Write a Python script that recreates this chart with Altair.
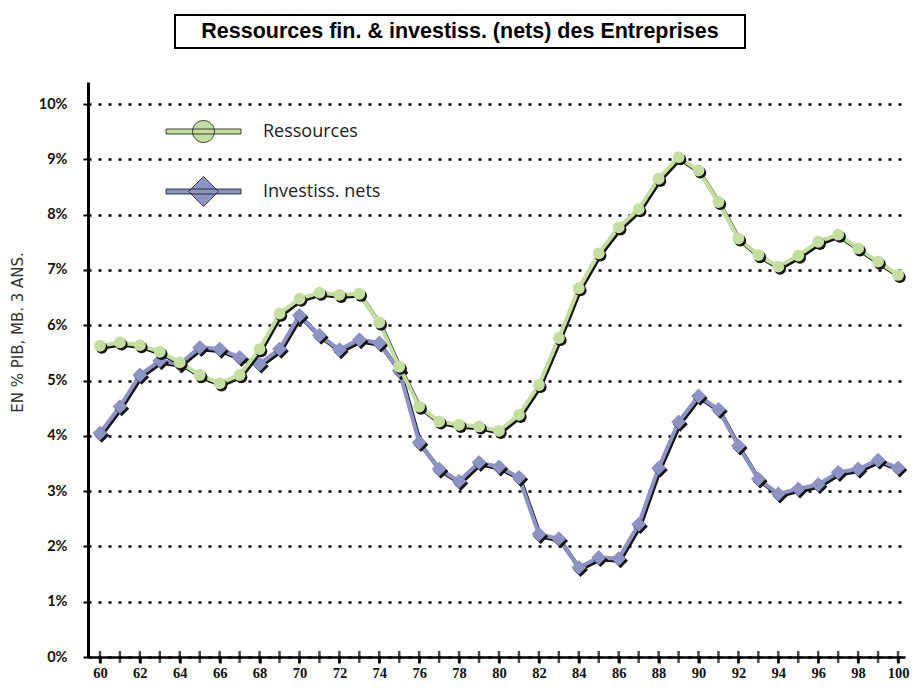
import altair as alt
import pandas as pd

years = list(range(60, 101))
ressources = [5.63, 5.69, 5.64, 5.52, 5.33, 5.10, 4.95, 5.10, 5.57, 6.21,
              6.48, 6.59, 6.55, 6.57, 6.05, 5.25, 4.53, 4.26, 4.20, 4.17,
              4.09, 4.38, 4.92, 5.77, 6.67, 7.30, 7.77, 8.10, 8.65, 9.04,
              8.80, 8.23, 7.57, 7.27, 7.06, 7.26, 7.51, 7.64, 7.39, 7.15, 6.91]
investiss = [4.05, 4.53, 5.10, 5.36, 5.30, 5.60, 5.57, 5.42, 5.30, 5.57,
             6.18, 5.82, 5.56, 5.74, 5.68, 5.18, 3.88, 3.40, 3.18, 3.52,
             3.44, 3.25, 2.22, 2.14, 1.62, 1.80, 1.78, 2.40, 3.42, 4.25,
             4.72, 4.48, 3.82, 3.22, 2.95, 3.04, 3.12, 3.34, 3.40, 3.56, 3.42]
series_names = ["Ressources", "Investiss. nets"]
y_ticks = list(range(0, 11))
title_text = "Ressources fin. & investiss. (nets) des Entreprises"

GREEN = "#c3de9f"
BLUE = "#8d93c4"
SHADOW = "#151515"

df = pd.DataFrame({
    "year": years * 2,
    "value": ressources + investiss,
    "series": [series_names[0]] * len(years) + [series_names[1]] * len(years),
})
ticks_df = pd.DataFrame({"year": years})
box_df = pd.DataFrame({"title": [title_text]})

x_scale = alt.Scale(domain=[59.4, 100.35], nice=False, zero=False)
y_scale = alt.Scale(domain=[0, 10.4], nice=False)

x_enc = alt.X("year:Q", scale=x_scale, axis=alt.Axis(
    values=years, title=None, grid=False,
    labelExpr="datum.value % 2 == 0 ? datum.label : ''",
    labelFont="Liberation Sans Narrow", labelFontWeight="bold", labelFontSize=14.5,
    labelColor="#111", labelPadding=3, tickSize=6, tickWidth=2.5, tickColor="black",
    domainColor="black", domainWidth=2.5, labelFlush=False,
))
y_enc = alt.Y("value:Q", scale=y_scale, axis=alt.Axis(
    values=y_ticks, labelExpr="datum.value + '%'",
    title="EN % PIB, MB. 3 ANS.", titleFont="DejaVu Sans", titleFontWeight="normal",
    titleFontSize=15, titleColor="#333", titleX=-63, titleY=250, titleAngle=-90,
    labelFont="Lato", labelFontWeight="bold", labelFontSize=14.5, labelColor="#111",
    labelPadding=16, tickSize=5, tickWidth=2, tickColor="black",
    domainColor="black", domainWidth=3,
    grid=True, gridColor="black", gridWidth=2.5, gridDash=[3, 7],
))

base = alt.Chart(df)

legend_paths = [
    "M-3.75,-0.25L3.75,-0.25L3.75,0.25L-3.75,0.25Z M1.1,0A1.1,1.1 0 1 1 -1.1,0A1.1,1.1 0 1 1 1.1,0Z",
    "M-3.75,-0.25L3.75,-0.25L3.75,0.25L-3.75,0.25Z M0,-1.5L1.5,0L0,1.5L-1.5,0Z",
]
leg = dict(title=None, orient="none", legendX=105, legendY=39,
           symbolSize=400, labelOffset=49, rowPadding=29,
           labelFont="Open Sans", labelFontSize=18,
           labelColor="#222", symbolStrokeColor=SHADOW, symbolStrokeWidth=0.8)
legend_layer = base.mark_point(filled=True, size=1, opacity=1).encode(
    x=x_enc, y=y_enc,
    color=alt.Color("series:N", scale=alt.Scale(domain=series_names, range=[GREEN, BLUE]),
                    legend=alt.Legend(**leg)),
    shape=alt.Shape("series:N", scale=alt.Scale(domain=series_names, range=legend_paths),
                    legend=alt.Legend(**leg)),
)

layers = [legend_layer]
for name, col, shp, sz in [(series_names[1], BLUE, "diamond", 220),
                           (series_names[0], GREEN, "circle", 140)]:
    sub = base.transform_filter(alt.datum.series == name)
    layers.append(sub.mark_line(color=SHADOW, strokeWidth=4, xOffset=1.5, yOffset=2).encode(x=x_enc, y=y_enc))
    layers.append(sub.mark_line(color=col, strokeWidth=4).encode(x=x_enc, y=y_enc))
    layers.append(sub.mark_point(shape=shp, size=sz, filled=True, color=SHADOW, opacity=1,
                                 xOffset=1.8, yOffset=2.2).encode(x=x_enc, y=y_enc))
    layers.append(sub.mark_point(shape=shp, size=sz, filled=True, color=col, opacity=1).encode(x=x_enc, y=y_enc))

tick_layer = alt.Chart(ticks_df).mark_tick(orient="vertical", size=12, thickness=2.5, color="black").encode(
    x=alt.X("year:Q", scale=x_scale), y=alt.datum(0))
layers.append(tick_layer)

box_layer = alt.Chart(box_df).mark_rect(filled=False, stroke="black", strokeWidth=2).encode(
    x=alt.value(87), x2=alt.value(657), y=alt.value(-67), y2=alt.value(-34))
title_layer = alt.Chart(box_df).mark_text(
    font="Liberation Sans", fontWeight="bold", fontSize=21.5, color="black",
    align="center", baseline="middle").encode(
    text="title:N", x=alt.value(372), y=alt.value(-50))
layers += [box_layer, title_layer]

chart = alt.layer(*layers).properties(
    width=817, height=575,
    autosize=alt.AutoSizeParams(type="none"),
    padding={"left": 80, "top": 74, "right": 6, "bottom": 26},
).configure_view(stroke=None).configure_axis(labelOverlap=False)

chart.save("out.html", embed_options={"renderer": "svg", "actions": False})
